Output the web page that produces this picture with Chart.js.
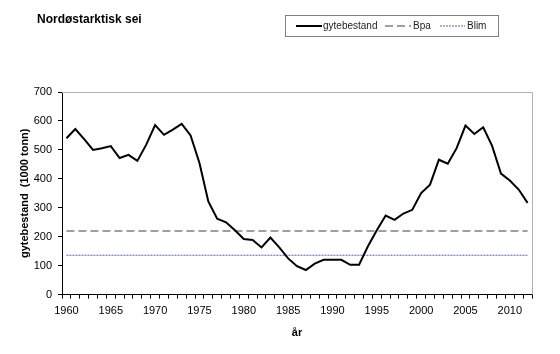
<!DOCTYPE html>
<html>
<head>
<meta charset="utf-8">
<script src="https://cdn.jsdelivr.net/npm/chart.js@4.4.1/dist/chart.umd.min.js"></script>
<style>
  html, body { margin: 0; padding: 0; background: #fff; }
  #wrap { position: relative; width: 560px; height: 354px; }
</style>
</head>
<body>
<div id="wrap"><canvas id="myChart" width="560" height="354"></canvas></div>
<script>
// år 1960 - 2012
const years = [];
for (let y = 1960; y <= 2012; y++) years.push(y);

// gytebestand (1000 tonn), lest av figuren
const gytebestand = [
  540, 572, 537, 500, 506, 513, 472, 483, 462, 518,
  586, 552, 570, 590, 550, 455, 322, 262, 250, 222,
  192, 189, 163, 197, 163, 125, 98, 85, 107, 120,
  120, 120, 103, 103, 167, 222, 273, 258, 280, 293,
  351, 380, 466, 452, 506, 584, 555, 578, 514, 418,
  394, 363, 317
];

// referansepunkter
const bpa = 220;
const blim = 136;

const yTicks = [0, 100, 200, 300, 400, 500, 600, 700];

const fontName = "'Liberation Sans', Arial, sans-serif";

// tittel + legende med ramme
const extras = {
  id: 'extras',
  afterDraw(chart) {
    const ctx = chart.ctx;
    const a = chart.chartArea;
    ctx.save();
    // grå ramme rundt plottet (topp og høyre)
    ctx.strokeStyle = '#b0b0b0';
    ctx.lineWidth = 1;
    ctx.beginPath();
    ctx.moveTo(a.left, a.top + 0.5);
    ctx.lineTo(a.right + 0.5, a.top + 0.5);
    ctx.lineTo(a.right + 0.5, a.bottom);
    ctx.stroke();

    // tittel
    ctx.fillStyle = '#000';
    ctx.font = 'bold 12px ' + fontName;
    ctx.textBaseline = 'middle';
    ctx.textAlign = 'left';
    ctx.fillText('Nordøstarktisk sei', 37, 20);

    // legende
    ctx.strokeStyle = '#808080';
    ctx.lineWidth = 1;
    ctx.strokeRect(285.5, 15.5, 213, 21);
    ctx.font = '10px ' + fontName;
    const items = [
      { ds: chart.data.datasets[0], x: 296, len: 26, tx: 323 },
      { ds: chart.data.datasets[1], x: 385, len: 26, tx: 413 },
      { ds: chart.data.datasets[2], x: 440, len: 25, tx: 467 }
    ];
    items.forEach(it => {
      ctx.strokeStyle = it.ds.borderColor;
      ctx.lineWidth = it.ds.borderWidth;
      ctx.setLineDash(it.ds.borderDash || []);
      ctx.beginPath();
      ctx.moveTo(it.x, 26);
      ctx.lineTo(it.x + it.len, 26);
      ctx.stroke();
      ctx.setLineDash([]);
      ctx.fillStyle = '#222';
      ctx.fillText(it.ds.label, it.tx, 26);
    });
    ctx.restore();
  }
};

const ctx = document.getElementById('myChart').getContext('2d');
new Chart(ctx, {
  type: 'line',
  data: {
    labels: years,
    datasets: [
      {
        label: 'gytebestand',
        data: gytebestand,
        borderColor: '#000',
        borderWidth: 2,
        pointRadius: 0,
        tension: 0,
        order: 0
      },
      {
        label: 'Bpa',
        data: years.map(() => bpa),
        borderColor: '#808080',
        borderWidth: 1.5,
        borderDash: [8, 4],
        pointRadius: 0,
        order: 1
      },
      {
        label: 'Blim',
        data: years.map(() => blim),
        borderColor: '#5a5ab8',
        borderWidth: 1,
        borderDash: [2, 1],
        pointRadius: 0,
        order: 2
      }
    ]
  },
  options: {
    responsive: false,
    animation: false,
    layout: { padding: { top: 92, right: 28, bottom: 14, left: 18 } },
    plugins: {
      legend: { display: false },
      tooltip: { enabled: false }
    },
    scales: {
      x: {
        type: 'category',
        offset: true,
        grid: {
          offset: true,
          drawOnChartArea: false,
          drawTicks: true,
          tickLength: 4,
          color: '#000'
        },
        border: { display: true, color: '#000', width: 1 },
        ticks: {
          autoSkip: false,
          maxRotation: 0,
          padding: 6,
          color: '#000',
          font: { family: fontName, size: 11 },
          callback: function(val, i) {
            const yr = years[i];
            return yr % 5 === 0 ? String(yr) : '';
          }
        },
        title: {
          display: true,
          text: 'år',
          color: '#000',
          font: { family: fontName, size: 11, weight: 'bold' },
          padding: { top: 3, bottom: 0 }
        }
      },
      y: {
        min: 0,
        max: 700,
        afterBuildTicks: function(scale) {
          scale.ticks = yTicks.map(v => ({ value: v }));
        },
        afterFit: function(scale) { scale.width = 44; },
        grid: {
          drawOnChartArea: false,
          drawTicks: true,
          tickLength: 4,
          color: '#000'
        },
        border: { display: true, color: '#000', width: 1 },
        ticks: {
          padding: 6,
          color: '#000',
          font: { family: fontName, size: 11 }
        },
        title: {
          display: true,
          text: 'gytebestand  (1000 tonn)',
          color: '#000',
          font: { family: fontName, size: 11, weight: 'bold' },
          padding: { top: 0, bottom: 2 }
        }
      }
    }
  },
  plugins: [extras]
});
</script>
</body>
</html>
